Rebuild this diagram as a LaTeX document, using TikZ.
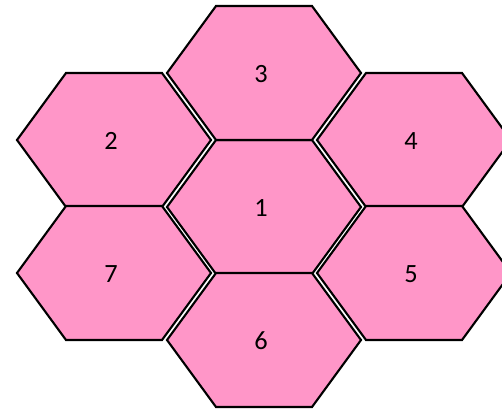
\documentclass[tikz,border=0pt]{standalone}
\usepackage{fontspec}
\setmainfont{Carlito}
\usetikzlibrary{positioning}

\definecolor{cellpink}{HTML}{FF96C8}

\begin{document}
\begin{tikzpicture}[x=0.02cm, y=-0.02cm,
  hexcell/.style={draw=black, fill=cellpink, line width=1.2pt, line join=miter},
  cellnum/.style={font=\fontsize{15}{18}\selectfont, inner sep=0pt},
]

\clip (0,0) rectangle (502,409);

% cells: centre x / centre y / number
\foreach \cx/\cy/\n in {264/207/1, 114/140/2, 264/73/3, 414/140/4, 414/273/5, 264/340/6, 114/273/7}{
  \draw[hexcell] (\cx-97,\cy) -- (\cx-48,\cy-67) -- (\cx+48,\cy-67)
    -- (\cx+97,\cy) -- (\cx+48,\cy+67) -- (\cx-48,\cy+67) -- cycle;
  \node[cellnum] (cell\n) at (\cx-3,\cy+1) {\n};
}

\end{tikzpicture}
\end{document}
